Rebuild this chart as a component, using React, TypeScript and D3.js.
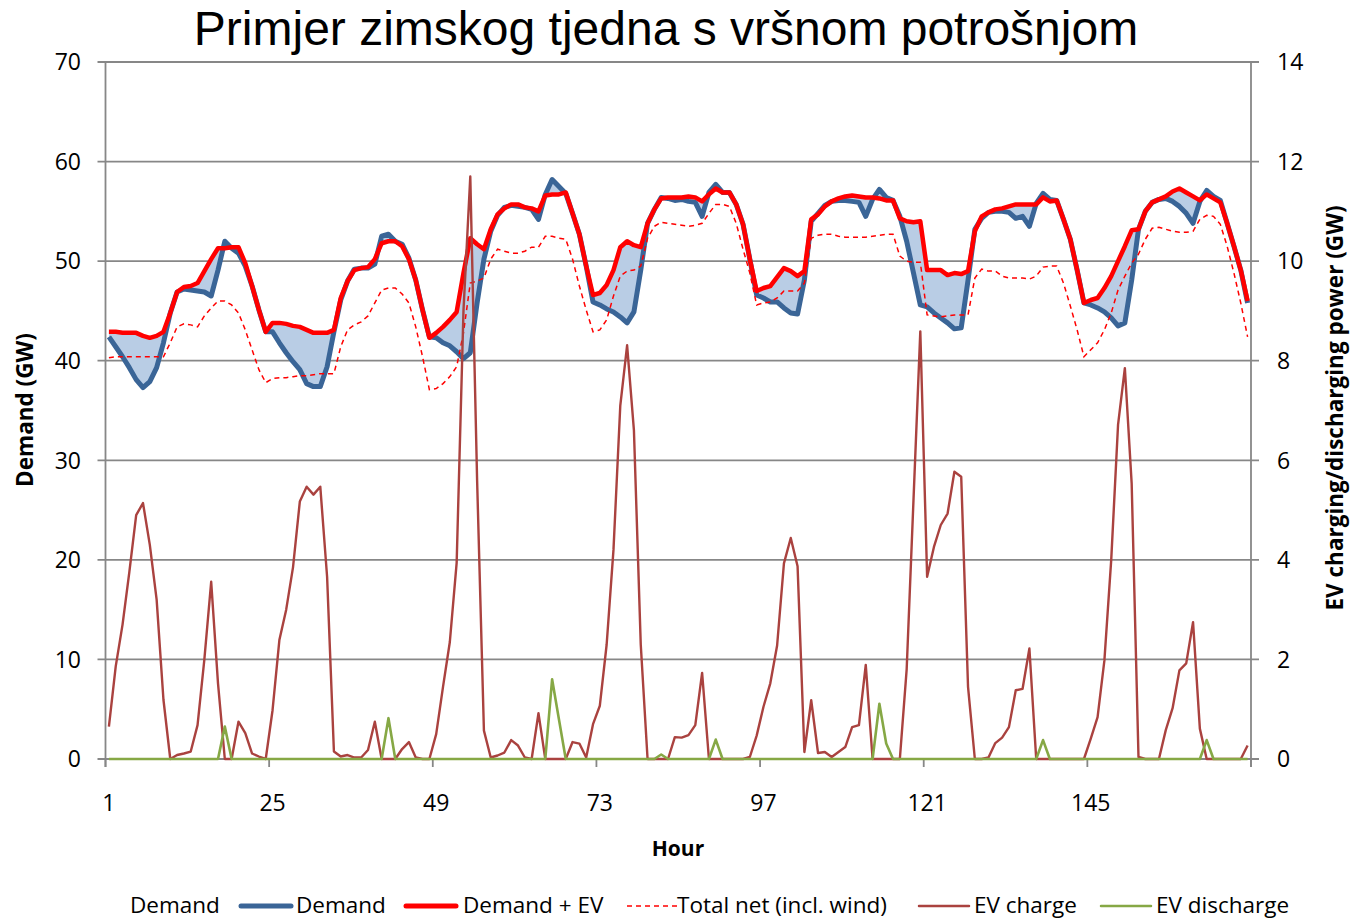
import React from 'react';
import * as d3 from 'd3';

// hourly values (hour 1..168)
const demand = [
  42.4, 41.4, 40.4, 39.3, 38.1, 37.3, 37.9, 39.3, 41.8, 44.8,
  46.9, 47.2, 47.1, 47.0, 46.9, 46.5, 49.1, 52.0, 51.3, 50.8,
  49.5, 47.5, 45.1, 42.9, 42.9, 41.8, 40.8, 39.9, 39.1, 37.7,
  37.4, 37.4, 39.4, 42.9, 46.1, 48.0, 49.2, 49.3, 49.3, 49.7,
  52.5, 52.7, 52.0, 51.7, 50.3, 48.1, 45.1, 42.4, 42.3, 41.8,
  41.5, 40.9, 40.2, 40.8, 45.8, 50.2, 53.0, 54.6, 55.4, 55.6,
  55.5, 55.4, 55.2, 54.2, 56.7, 58.2, 57.5, 56.8, 54.8, 52.7,
  49.5, 45.9, 45.6, 45.2, 44.9, 44.4, 43.8, 44.9, 49.1, 53.8,
  55.2, 56.4, 56.3, 56.1, 56.2, 56.0, 55.9, 54.5, 56.9, 57.7,
  56.9, 56.9, 55.7, 53.7, 50.2, 46.6, 46.3, 45.9, 45.9, 45.3,
  44.8, 44.7, 48.1, 54.0, 54.8, 55.6, 56.0, 56.1, 56.1, 56.0,
  55.9, 54.5, 56.2, 57.2, 56.4, 56.1, 54.5, 52.0, 48.8, 45.6,
  45.4, 44.8, 44.3, 43.8, 43.2, 43.3, 48.1, 53.2, 54.3, 54.9,
  55.0, 55.0, 54.9, 54.3, 54.5, 53.5, 55.8, 56.8, 56.2, 56.1,
  54.2, 52.2, 49.1, 45.8, 45.6, 45.3, 44.9, 44.3, 43.5, 43.8,
  48.1, 53.2, 55.0, 55.9, 56.2, 56.3, 56.0, 55.5, 54.8, 53.8,
  56.0, 57.1, 56.5, 56.1, 53.8, 51.5, 49.1, 45.8,
];

const demandEV = [
  42.9, 42.9, 42.8, 42.8, 42.8, 42.5, 42.3, 42.5, 42.9, 44.8,
  46.9, 47.4, 47.5, 47.8, 49.0, 50.2, 51.3, 51.3, 51.4, 51.4,
  49.8, 47.5, 45.1, 42.9, 43.8, 43.8, 43.7, 43.5, 43.4, 43.1,
  42.8, 42.8, 42.8, 43.1, 46.3, 48.0, 49.1, 49.3, 49.4, 50.2,
  51.8, 52.0, 52.0, 51.5, 50.2, 48.1, 45.1, 42.3, 42.8, 43.4,
  44.1, 44.9, 48.8, 52.3, 51.7, 51.2, 53.2, 54.7, 55.3, 55.7,
  55.7, 55.4, 55.3, 55.0, 56.6, 56.7, 56.7, 56.9, 54.8, 52.7,
  49.5, 46.6, 46.8, 47.6, 49.1, 51.4, 52.0, 51.6, 51.4, 53.8,
  55.2, 56.3, 56.4, 56.4, 56.4, 56.5, 56.4, 56.0, 56.7, 57.3,
  56.9, 56.9, 55.7, 53.7, 50.2, 47.0, 47.3, 47.5, 48.4, 49.3,
  49.0, 48.5, 49.0, 54.2, 54.7, 55.5, 56.0, 56.3, 56.5, 56.6,
  56.5, 56.4, 56.4, 56.3, 56.1, 56.1, 54.3, 54.0, 53.9, 54.0,
  49.1, 49.1, 49.1, 48.6, 48.8, 48.7, 49.0, 53.0, 54.5, 54.9,
  55.2, 55.3, 55.5, 55.7, 55.7, 55.7, 55.7, 56.4, 56.0, 56.1,
  54.2, 52.2, 49.1, 45.8, 46.1, 46.3, 47.3, 48.5, 50.0, 51.5,
  53.1, 53.2, 55.0, 55.9, 56.2, 56.5, 57.0, 57.3, 56.9, 56.5,
  56.1, 56.7, 56.3, 55.9, 53.8, 51.5, 49.1, 46.0,
];

const totalNet = [
  40.3, 40.4, 40.4, 40.4, 40.4, 40.4, 40.4, 40.4, 40.4, 41.8,
  43.4, 43.7, 43.6, 43.4, 44.5, 45.3, 46.0, 46.0, 45.6, 44.8,
  43.1, 41.1, 39.1, 37.8, 38.2, 38.3, 38.3, 38.4, 38.5, 38.5,
  38.6, 38.7, 38.7, 38.7, 41.4, 43.1, 43.6, 43.9, 44.5, 45.8,
  47.1, 47.3, 47.3, 46.7, 45.8, 43.4, 40.4, 37.1, 37.2, 37.7,
  38.4, 39.4, 42.8, 47.8, 48.0, 48.3, 50.2, 51.2, 51.0, 50.8,
  50.8, 51.0, 51.4, 51.4, 52.5, 52.5, 52.3, 52.2, 50.2, 47.5,
  45.1, 42.9, 43.1, 44.1, 46.5, 48.5, 49.0, 49.1, 49.5, 52.3,
  53.5, 53.9, 53.8, 53.7, 53.6, 53.5, 53.6, 53.8, 54.8, 55.7,
  55.7, 55.5, 53.8, 51.2, 48.8, 45.6, 45.8, 45.9, 46.3, 47.0,
  47.0, 47.0, 47.8, 52.3, 52.6, 52.7, 52.7, 52.5, 52.4, 52.4,
  52.4, 52.4, 52.5, 52.6, 52.7, 52.7, 50.5, 50.0, 49.9, 49.9,
  44.6, 44.5, 44.4, 44.5, 44.6, 44.6, 44.6, 48.3, 49.2, 49.0,
  49.0, 48.5, 48.3, 48.3, 48.3, 48.2, 48.5, 49.4, 49.5, 49.5,
  47.8, 45.5, 43.1, 40.4, 41.1, 41.8, 43.1, 44.8, 47.1, 48.5,
  49.8, 50.7, 52.2, 53.3, 53.4, 53.2, 53.0, 52.9, 52.9, 53.0,
  54.2, 54.6, 54.5, 53.7, 51.5, 48.8, 45.8, 42.4,
];

// secondary axis (GW)
const evCharge = [
  0.65, 1.86, 2.7, 3.76, 4.9, 5.14, 4.3, 3.2, 1.19, 0,
  0.08, 0.11, 0.15, 0.68, 2.0, 3.56, 1.52, 0, 0, 0.75,
  0.52, 0.11, 0.05, 0, 0.98, 2.39, 3.0, 3.85, 5.17, 5.47,
  5.31, 5.47, 3.66, 0.15, 0.05, 0.08, 0.03, 0.03, 0.18, 0.75,
  0, 0, 0, 0.2, 0.34, 0.03, 0, 0, 0.5, 1.45,
  2.35, 3.94, 9.0, 11.7, 5.6, 0.57, 0.03, 0.07, 0.13, 0.38,
  0.27, 0.03, 0, 0.92, 0, 0, 0, 0, 0.34, 0.31,
  0.03, 0.7, 1.07, 2.3, 4.2, 7.1, 8.31, 6.6, 2.3, 0,
  0, 0, 0, 0.44, 0.43, 0.48, 0.68, 1.73, 0, 0,
  0, 0, 0, 0, 0.04, 0.47, 1.05, 1.52, 2.28, 3.93,
  4.44, 3.87, 0.14, 1.18, 0.12, 0.14, 0.04, 0.14, 0.24, 0.64,
  0.68, 1.89, 0, 0, 0, 0, 0, 1.8, 5.2, 8.59,
  3.66, 4.26, 4.7, 4.93, 5.77, 5.67, 1.45, 0, 0, 0.03,
  0.32, 0.43, 0.64, 1.38, 1.41, 2.22, 0, 0, 0, 0,
  0, 0, 0, 0, 0.41, 0.84, 1.98, 4.0, 6.71, 7.85,
  5.53, 0.04, 0, 0, 0, 0.58, 1.02, 1.78, 1.92, 2.75,
  0.61, 0, 0, 0, 0, 0, 0, 0.27,
];

const evDischarge = [
  0, 0, 0, 0, 0, 0, 0, 0, 0, 0,
  0, 0, 0, 0, 0, 0, 0, 0.65, 0, 0,
  0, 0, 0, 0, 0, 0, 0, 0, 0, 0,
  0, 0, 0, 0, 0, 0, 0, 0, 0, 0,
  0, 0.82, 0, 0, 0, 0, 0, 0, 0, 0,
  0, 0, 0, 0, 0, 0, 0, 0, 0, 0,
  0, 0, 0, 0, 0, 1.6, 0.8, 0, 0, 0,
  0, 0, 0, 0, 0, 0, 0, 0, 0, 0,
  0, 0.09, 0, 0, 0, 0, 0, 0, 0, 0.39,
  0, 0, 0, 0, 0, 0, 0, 0, 0, 0,
  0, 0, 0, 0, 0, 0, 0, 0, 0, 0,
  0, 0, 0, 1.11, 0.31, 0, 0, 0, 0, 0,
  0, 0, 0, 0, 0, 0, 0, 0, 0, 0,
  0, 0, 0, 0, 0, 0, 0, 0.38, 0, 0,
  0, 0, 0, 0, 0, 0, 0, 0, 0, 0,
  0, 0, 0, 0, 0, 0, 0, 0, 0, 0,
  0, 0.38, 0, 0, 0, 0, 0, 0,
];

const hours = d3.range(1, 169);
const hourLabels = [1, 25, 49, 73, 97, 121, 145];
const leftTicks = [0, 10, 20, 30, 40, 50, 60, 70];
const rightTicks = [0, 2, 4, 6, 8, 10, 12, 14];

const title = 'Primjer zimskog tjedna s vršnom potrošnjom';

const FONT = "'Open Sans', 'DejaVu Sans', sans-serif";
const GRID = '#878787';
const BLUE = '#3a6597';
const FILL = '#b9cde5';
const RED = '#ff0000';
const CHARGE = '#aa423f';
const DISCHARGE = '#86a845';

export default function App() {
  const W = 1350, H = 921;
  const left = 105.5, right = 1251, top = 62, bottom = 759;

  const x = d3.scaleLinear().domain([0.5, 168.5]).range([left, right]);
  const yL = d3.scaleLinear().domain([0, 70]).range([bottom, top]);
  const yR = d3.scaleLinear().domain([0, 14]).range([bottom, top]);

  const lineL = d3.line<number>().x((d, i) => x(hours[i])).y(d => yL(d));
  const lineR = d3.line<number>().x((d, i) => x(hours[i])).y(d => yR(d));
  const band = d3.area<number>()
    .x((d, i) => x(hours[i]))
    .y0(d => yL(d))
    .y1((d, i) => yL(demandEV[i]));

  const catTicks = d3.range(0, 8).map(k => 0.5 + k * 24);

  // legend entries
  const legend = [
    { label: 'Demand', sym: null, sx: 0, tx: 130 },
    { label: 'Demand', sym: { c: BLUE, w: 5, dash: null }, sx: 241, tx: 296 },
    { label: 'Demand + EV', sym: { c: RED, w: 5, dash: null }, sx: 406, tx: 463 },
    { label: 'Total net (incl. wind)', sym: { c: RED, w: 1.5, dash: '5,4' }, sx: 627, tx: 677 },
    { label: 'EV charge', sym: { c: CHARGE, w: 2.5, dash: null }, sx: 919, tx: 974 },
    { label: 'EV discharge', sym: { c: DISCHARGE, w: 2.5, dash: null }, sx: 1101, tx: 1156 },
  ];

  return (
    <svg width={W} height={H} style={{ position: 'absolute', left: 0, top: 0, background: '#fff' }}
      fontFamily={FONT}>
      <rect x={0} y={0} width={W} height={H} fill="#fff" />

      {/* title */}
      <text x={666} y={45} textAnchor="middle" fontFamily="'Liberation Sans', Arial, sans-serif"
        fontSize={48} fill="#000">{title}</text>

      {/* gridlines */}
      {leftTicks.map(t => (
        <line key={'g' + t} x1={left - 8} x2={right + 8} y1={yL(t)} y2={yL(t)}
          stroke={GRID} strokeWidth={1.8} />
      ))}
      {/* axis lines */}
      <line x1={left} x2={left} y1={top} y2={bottom + 8} stroke={GRID} strokeWidth={1.8} />
      <line x1={right} x2={right} y1={top} y2={bottom + 8} stroke={GRID} strokeWidth={1.8} />
      {catTicks.map(c => (
        <line key={'c' + c} x1={x(c)} x2={x(c)} y1={bottom} y2={bottom + 8} stroke={GRID} strokeWidth={1.8} />
      ))}

      {/* tick labels */}
      {leftTicks.map(t => (
        <text key={'l' + t} x={81} y={yL(t)} dy="0.36em" textAnchor="end" fontSize={23} fill="#000">{t}</text>
      ))}
      {rightTicks.map(t => (
        <text key={'r' + t} x={1277} y={yR(t)} dy="0.36em" textAnchor="start" fontSize={23} fill="#000">{t}</text>
      ))}
      {hourLabels.map(h => (
        <text key={'h' + h} x={x(h)} y={811} textAnchor="middle" fontSize={23} fill="#000">{h}</text>
      ))}

      {/* axis titles */}
      <text x={678} y={856} textAnchor="middle" fontSize={21} fontWeight="bold" fill="#000">Hour</text>
      <text transform="translate(33,410) rotate(-90)" textAnchor="middle" fontSize={22.5}
        fontWeight="bold" fill="#000">Demand (GW)</text>
      <text transform="translate(1343,408) rotate(-90)" textAnchor="middle" fontSize={22.5}
        fontWeight="bold" fill="#000">EV charging/discharging power (GW)</text>

      {/* series */}
      <path d={band(demand) || ''} fill={FILL} stroke="none" />
      <path d={lineL(demand) || ''} fill="none" stroke={BLUE} strokeWidth={5} strokeLinejoin="round" />
      <path d={lineL(demandEV) || ''} fill="none" stroke={RED} strokeWidth={4.5} strokeLinejoin="round" />
      <path d={lineL(totalNet) || ''} fill="none" stroke={RED} strokeWidth={1.5} strokeDasharray="5,4" />
      <path d={lineR(evCharge) || ''} fill="none" stroke={CHARGE} strokeWidth={2.4} strokeLinejoin="round" />
      <path d={lineR(evDischarge) || ''} fill="none" stroke={DISCHARGE} strokeWidth={2.6} strokeLinejoin="round" />

      {/* legend */}
      {legend.map((l, i) => (
        <g key={'lg' + i}>
          {l.sym && (
            <line x1={l.sx} x2={l.sx + 50} y1={906} y2={906} stroke={l.sym.c} strokeWidth={l.sym.w}
              strokeDasharray={l.sym.dash || undefined} strokeLinecap={l.sym.dash ? 'butt' : 'round'} />
          )}
          <text x={l.tx} y={913} fontSize={22.5} fill="#000">{l.label}</text>
        </g>
      ))}
    </svg>
  );
}
